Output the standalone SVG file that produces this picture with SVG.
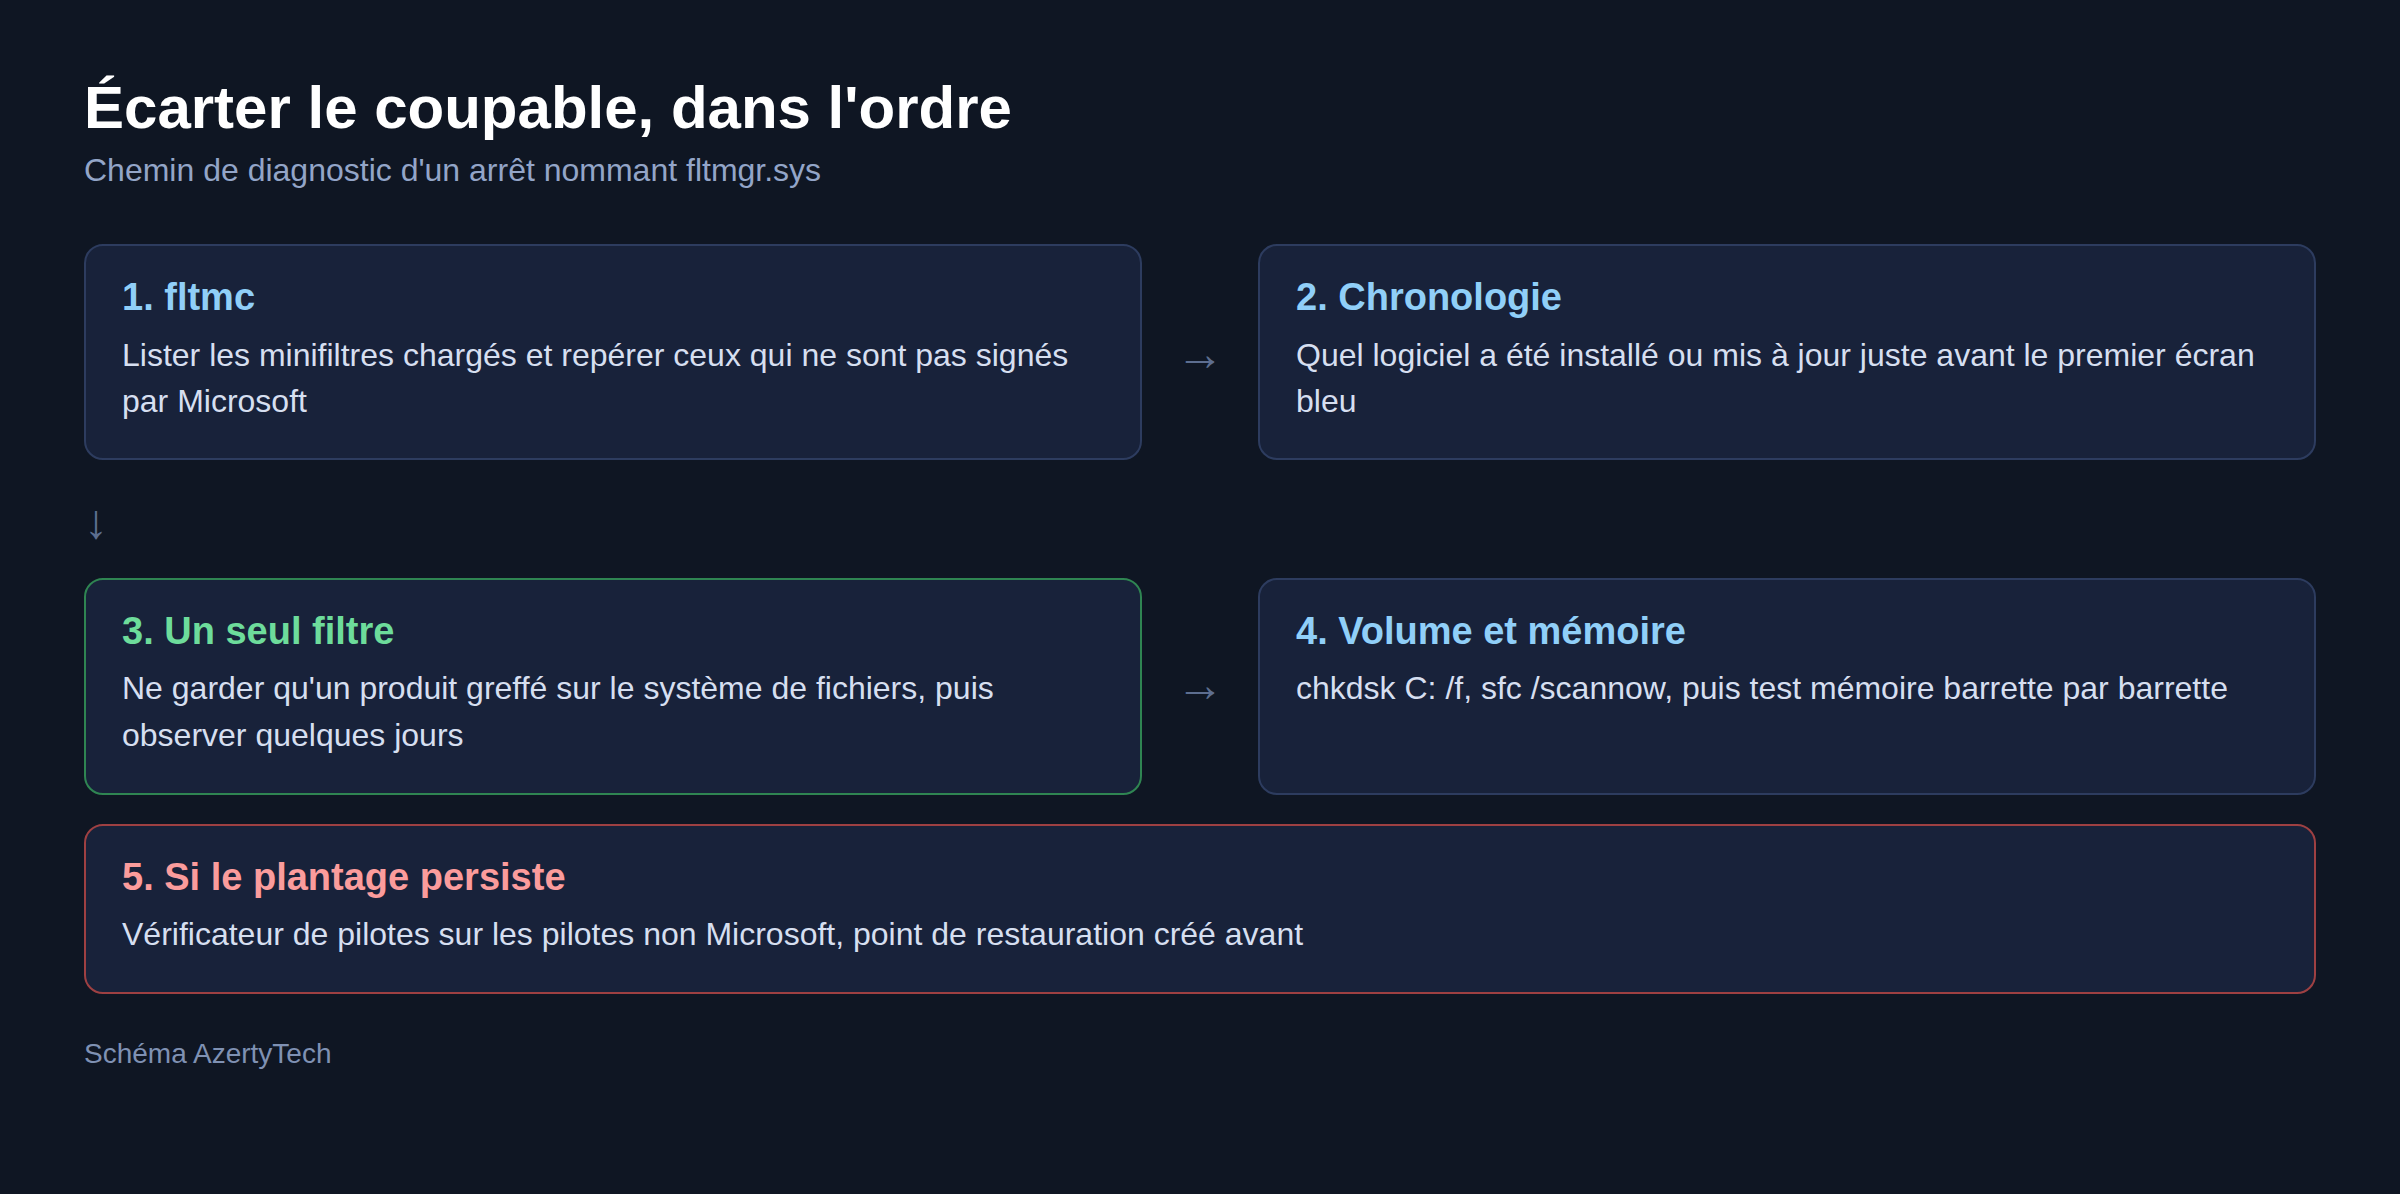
<svg xmlns="http://www.w3.org/2000/svg" width="2400" height="1194" viewBox="0 0 2400 1194">
<style>
text{font-family:"Liberation Sans",Arial,sans-serif}
.box{fill:#18223a;stroke:#2d3c5f;stroke-width:2}
.box.green{stroke:#2f8552}
.box.red{stroke:#9e4042}
.h{font-size:38px;font-weight:bold;fill:#90cff8}
.h.green{fill:#6ddc9b}
.h.red{fill:#fb9c9c}
.b{font-size:32px;fill:#d6dff0}
.arr{font-size:48px;fill:#5d6e90}
</style>
<rect width="2400" height="1194" fill="#0f1623"/>
<text x="84" y="128" font-size="60" font-weight="bold" fill="#ffffff">Écarter le coupable, dans l'ordre</text>
<text x="84" y="181" font-size="32" fill="#93a5c8">Chemin de diagnostic d'un arrêt nommant fltmgr.sys</text>
<g id="connectors">
<text class="arr" x="1200" y="370" text-anchor="middle">→</text>
<text class="arr" x="1200" y="701" text-anchor="middle">→</text>
<text class="arr" x="84" y="538">↓</text>
</g>
<g id="node1">
<rect class="box" x="85" y="245" width="1056" height="214" rx="18"/>
<text class="h" x="122" y="310">1. fltmc</text>
<text class="b" x="122" y="366">Lister les minifiltres chargés et repérer ceux qui ne sont pas signés</text>
<text class="b" x="122" y="412">par Microsoft</text>
</g>
<g id="node2">
<rect class="box" x="1259" y="245" width="1056" height="214" rx="18"/>
<text class="h" x="1296" y="310">2. Chronologie</text>
<text class="b" x="1296" y="366">Quel logiciel a été installé ou mis à jour juste avant le premier écran</text>
<text class="b" x="1296" y="412">bleu</text>
</g>
<g id="node3">
<rect class="box green" x="85" y="579" width="1056" height="215" rx="18"/>
<text class="h green" x="122" y="644">3. Un seul filtre</text>
<text class="b" x="122" y="699">Ne garder qu'un produit greffé sur le système de fichiers, puis</text>
<text class="b" x="122" y="746">observer quelques jours</text>
</g>
<g id="node4">
<rect class="box" x="1259" y="579" width="1056" height="215" rx="18"/>
<text class="h" x="1296" y="644">4. Volume et mémoire</text>
<text class="b" x="1296" y="699">chkdsk C: /f, sfc /scannow, puis test mémoire barrette par barrette</text>
</g>
<g id="node5">
<rect class="box red" x="85" y="825" width="2230" height="168" rx="18"/>
<text class="h red" x="122" y="890">5. Si le plantage persiste</text>
<text class="b" x="122" y="945">Vérificateur de pilotes sur les pilotes non Microsoft, point de restauration créé avant</text>
</g>
<text x="84" y="1063" font-size="28" fill="#7f91b3">Schéma AzertyTech</text>
</svg>
